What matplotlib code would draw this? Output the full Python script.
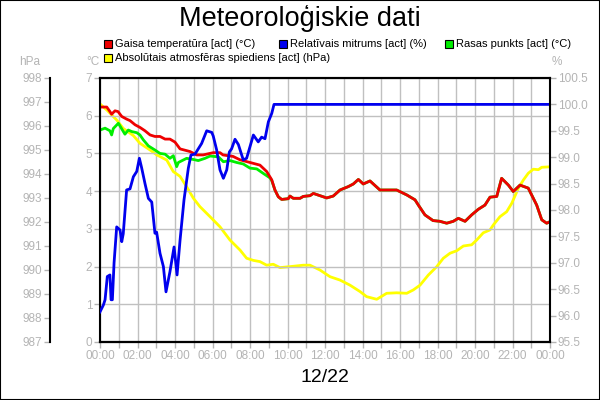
import matplotlib
matplotlib.use('Agg')
import matplotlib.pyplot as plt
from matplotlib.patches import Rectangle
import numpy as np

# hours from midnight
temp_h = [0.0, 0.36, 0.53, 0.62, 0.8, 0.96, 1.16, 1.42, 1.6, 1.87, 2.13, 2.4, 2.67, 2.93, 3.2, 3.47, 3.73,
          4.0, 4.27, 4.8, 5.16, 5.5, 6.04, 6.4, 6.56, 7.1, 7.47, 8.0, 8.53, 8.89, 9.16, 9.33, 9.51, 9.69,
          10.04, 10.13, 10.31, 10.67, 10.84, 11.2, 11.38, 11.73, 12.09, 12.44, 12.8, 13.24, 13.51, 13.78,
          14.04, 14.4, 14.93, 15.47, 15.82, 16.36, 16.8, 16.98, 17.33, 17.76, 18.13, 18.49, 18.84, 19.11,
          19.47, 19.82, 20.18, 20.53, 20.8, 21.16, 21.42, 21.78, 22.04, 22.4, 22.84, 23.29, 23.56, 23.82, 24.0]
temp_v = [6.23, 6.23, 6.11, 6.04, 6.13, 6.11, 5.98, 5.91, 5.87, 5.76, 5.69, 5.6, 5.49, 5.45, 5.45, 5.38, 5.38,
          5.3, 5.12, 5.05, 4.96, 4.96, 5.02, 5.02, 4.96, 4.92, 4.83, 4.76, 4.69, 4.52, 4.3, 4.03, 3.85, 3.78,
          3.8, 3.87, 3.81, 3.81, 3.86, 3.88, 3.94, 3.88, 3.82, 3.87, 4.03, 4.12, 4.19, 4.31,
          4.19, 4.27, 4.03, 4.03, 4.03, 3.9, 3.77, 3.63, 3.37, 3.22, 3.2, 3.15, 3.2, 3.28,
          3.2, 3.37, 3.52, 3.63, 3.84, 3.86, 4.34, 4.16, 3.99, 4.16, 4.08, 3.63, 3.24, 3.15, 3.19]

dew_h = [0.0, 0.27, 0.53, 0.62, 0.71, 0.98, 1.16, 1.33, 1.51, 1.69, 1.96, 2.13, 2.31, 2.58, 2.93, 3.2, 3.47,
         3.73, 3.91, 4.09, 4.18, 4.62, 4.98, 5.24, 5.6, 5.87, 6.31, 6.58, 6.93, 7.29, 7.64, 8.0, 8.36, 8.71,
         9.07, 9.16]
dew_v = [5.62, 5.67, 5.6, 5.49, 5.66, 5.8, 5.65, 5.51, 5.62, 5.58, 5.55, 5.49, 5.36, 5.2, 5.09, 5.0, 4.98,
         4.87, 4.94, 4.65, 4.76, 4.87, 4.84, 4.81, 4.87, 4.93, 4.91, 4.78, 4.81, 4.76, 4.72, 4.61, 4.59, 4.47,
         4.35, 4.28]
# after saturation the dew point follows the temperature
dew_h = dew_h + [h for h in temp_h if h > 9.16]
dew_v = dew_v + [v for h, v in zip(temp_h, temp_v) if h > 9.16]

hum_h = [0.0, 0.18, 0.27, 0.39, 0.53, 0.59, 0.66, 0.75, 0.89, 1.07, 1.16, 1.24, 1.42, 1.6, 1.78, 1.96, 2.1,
         2.22, 2.4, 2.58, 2.76, 2.93, 3.02, 3.2, 3.38, 3.52, 3.73, 3.95, 4.11, 4.27, 4.48, 4.71, 4.85, 5.07,
         5.42, 5.69, 5.96, 6.04, 6.22, 6.4, 6.58, 6.76, 6.9, 7.02, 7.2, 7.38, 7.64, 7.82, 8.0, 8.18, 8.44,
         8.62, 8.8, 8.98, 9.16, 9.28, 24.0]
hum_v = [96.07, 96.2, 96.3, 96.74, 96.77, 96.3, 96.3, 97.0, 97.68, 97.62, 97.4, 97.55, 98.38, 98.4, 98.63,
         98.73, 98.98, 98.8, 98.5, 98.22, 98.15, 97.56, 97.58, 97.18, 96.93, 96.45, 96.83, 97.3, 96.77, 97.43,
         98.19, 98.79, 99.04, 99.06, 99.26, 99.5, 99.47, 99.4, 99.14, 98.76, 98.6, 98.76, 99.1, 99.16, 99.34,
         99.24, 98.95, 98.98, 99.2, 99.42, 99.29, 99.38, 99.35, 99.67, 99.83, 100.0, 100.0]

pres_h = [0.0, 0.36, 0.89, 1.24, 1.78, 2.13, 2.67, 3.02, 3.56, 3.91, 4.27, 4.62, 4.98, 5.33, 5.87, 6.4, 6.93,
          7.47, 7.82, 8.18, 8.53, 8.89, 9.24, 9.6, 10.13, 10.84, 11.2, 11.73, 12.27, 12.8, 13.33, 13.87, 14.22,
          14.76, 15.29, 15.82, 16.36, 16.71, 17.07, 17.51, 17.96, 18.31, 18.67, 19.02, 19.38, 19.82, 20.09,
          20.44, 20.8, 20.98, 21.33, 21.69, 21.96, 22.31, 22.58, 22.84, 23.11, 23.38, 23.56, 24.0]
pres_v = [996.92, 996.67, 996.25, 995.9, 995.6, 995.28, 995.0, 994.8, 994.58, 994.1, 993.9, 993.47, 992.99,
          992.64, 992.22, 991.8, 991.25, 990.83, 990.49, 990.4, 990.35, 990.2, 990.24, 990.1, 990.14, 990.2,
          990.2, 990.0, 989.72, 989.58, 989.37, 989.1, 988.89, 988.78, 989.03, 989.05, 989.03, 989.17, 989.37,
          989.79, 990.14, 990.49, 990.7, 990.8, 991.0, 991.05, 991.25, 991.55, 991.67, 991.88, 992.22, 992.43,
          992.78, 993.4, 993.75, 994.03, 994.2, 994.18, 994.28, 994.3]

hour_ticks = np.arange(0, 25, 2)
hour_labels = ['%02d:00' % (h % 24) for h in hour_ticks]

tick_col = '#b4b4b4'
grid_col = '#c0c0c0'
plt.rcParams['font.family'] = ['Liberation Sans', 'DejaVu Sans']

fig = plt.figure(figsize=(6, 4), dpi=100)
fig.patches.append(Rectangle((0, 0), 1, 1, transform=fig.transFigure, fill=False,
                             edgecolor='black', linewidth=1.5))

ax_p = fig.add_axes([100 / 600, 1 - 342 / 400, 450 / 600, 264 / 400])
ax = ax_p.twinx()
ax_h = ax_p.twinx()

# grid on the temperature axis
ax.set_xlim(0, 24)
ax.set_ylim(0, 7)
ax_p.set_xticks(np.arange(0, 25, 1), minor=True)
ax_p.set_xticks(hour_ticks)
ax_p.set_xticklabels(hour_labels)
ax_p.grid(True, which='both', axis='x', color=grid_col, linewidth=1)
ax.grid(True, axis='y', color=grid_col, linewidth=1)
ax.yaxis.set_ticks_position('left')
ax.spines['left'].set_visible(True)
ax.spines['right'].set_visible(False)

ax_h.set_ylim(95.5, 100.5)
ax_h.set_yticks(np.arange(95.5, 100.51, 0.5))
ax_h.set_yticklabels(['%.1f' % v for v in np.arange(95.5, 100.51, 0.5)])

ax_p.set_ylim(987, 998)
ax_p.set_yticks(np.arange(987, 999, 1))
ax_p.spines['left'].set_position(('axes', -50 / 450))
ax_p.spines['right'].set_visible(False)
ax_p.spines['top'].set_visible(False)

for a in (ax, ax_h, ax_p):
    a.tick_params(which='both', colors=tick_col, labelcolor=tick_col, labelsize=8.5,
                  length=4, width=1, pad=1.5)
    for s in a.spines.values():
        s.set_linewidth(1.5)
ax_h.spines['left'].set_visible(False)

ax_p.plot(pres_h, pres_v, color='#ffff00', linewidth=2)
ax.plot(dew_h, dew_v, color='#00ee00', linewidth=2)
ax.plot(temp_h, temp_v, color='#ee0000', linewidth=2)
ax_h.plot(hum_h, hum_v, color='#0000ee', linewidth=2)
ax_p.set_xlim(0, 24)

fig.text(30 / 600, 1 - 62 / 400, 'hPa', color=tick_col, fontsize=8.5, ha='center', va='center')
fig.text(93 / 600, 1 - 62 / 400, '°C', color=tick_col, fontsize=8.5, ha='center', va='center')
fig.text(557 / 600, 1 - 62 / 400, '%', color=tick_col, fontsize=8.5, ha='center', va='center')

fig.text(0.5, 1 - 18 / 400, 'Meteoroloģiskie dati', fontsize=19.5, ha='center', va='center')
fig.text(325 / 600, 1 - 378 / 400, '12/22', fontsize=14, ha='center', va='center')

legend_items = [('Gaisa temperatūra [act] (°C)', '#ee0000', 108, 44),
                ('Relatīvais mitrums [act] (%)', '#0000ee', 283, 44),
                ('Rasas punkts [act] (°C)', '#00ee00', 449, 44),
                ('Absolūtais atmosfēras spiediens [act] (hPa)', '#ffff00', 108, 58)]
for label, col, px, py in legend_items:
    fig.patches.append(Rectangle(((px - 4) / 600, 1 - (py + 4) / 400), 8 / 600, 8 / 400,
                                 transform=fig.transFigure, facecolor=col, edgecolor='black', linewidth=0.8))
    fig.text((px + 7) / 600, 1 - py / 400, label, fontsize=8, ha='left', va='center')

fig.savefig('out.png', dpi=100)
